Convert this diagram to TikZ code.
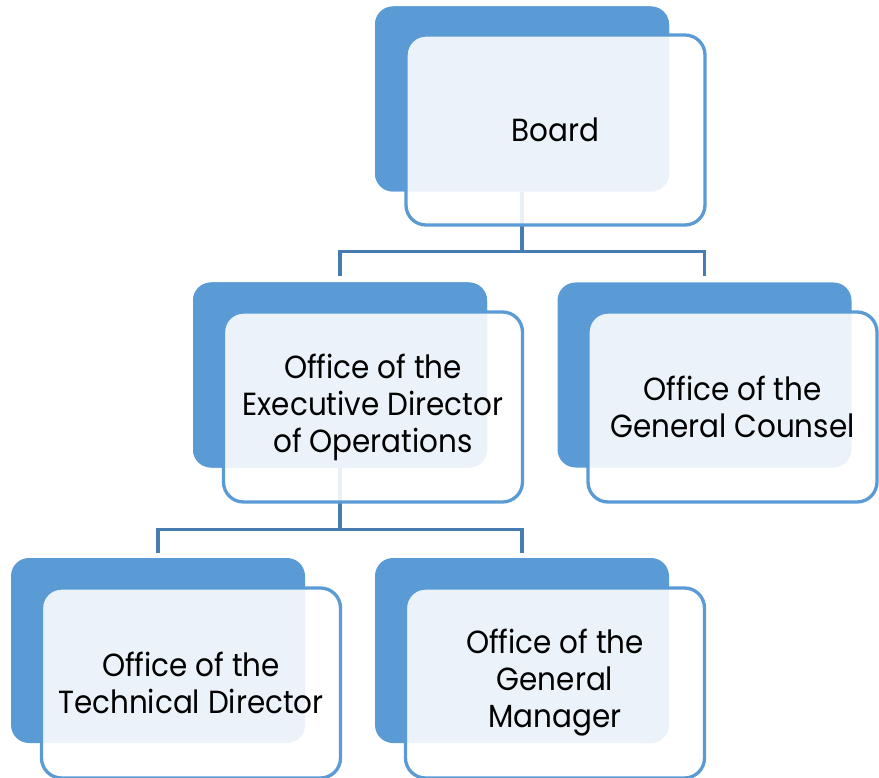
\documentclass[tikz,border=0pt]{standalone}
\usepackage{fontspec}
\setmainfont{Poppins}[FakeStretch=0.92]
\definecolor{accent}{HTML}{5B9BD5}
\definecolor{connc}{RGB}{70,124,176}
\begin{document}
\begin{tikzpicture}[x=1pt,y=-1pt,
  backbox/.style={rectangle, fill=accent, draw=none, minimum width=294pt, minimum height=185pt, rounded corners=18pt, inner sep=0pt},
  frontbox/.style={rectangle, fill=white, fill opacity=0.88, text opacity=1, draw=accent, line width=3.3pt, minimum width=299pt, minimum height=190pt, rounded corners=20pt, inner sep=0pt, align=center, font=\fontsize{32pt}{37pt}\selectfont},
  conn/.style={draw=connc, line width=3.4pt}]
\useasboundingbox (0,0) rectangle (879,778);
% back boxes
\node[backbox] (bB) at (522,99) {};
\node[backbox] (bE) at (340,375) {};
\node[backbox] (bG) at (704.5,375) {};
\node[backbox] (bT) at (158,650.5) {};
\node[backbox] (bM) at (522,650.5) {};
% connectors
\draw[conn] (bB.south) -- ++(0,60) -| ([yshift=6pt]bE.north);
\draw[conn] (bB.south) -- ++(0,60) -| ([yshift=6pt]bG.north);
\draw[conn] (bE.south) -- ++(0,62) -| ([yshift=5pt]bT.north);
\draw[conn] (bE.south) -- ++(0,62) -| ([yshift=5pt]bM.north);
% redraw back boxes over connector starts
\node[backbox] at (bB) {};
\node[backbox] at (bE) {};
% front boxes
\node[frontbox] (fB) at (555.5,130) {Board};
\node[frontbox] (fE) at (373,407) {Office of the\\Executive Director\\of Operations};
\node[frontbox, minimum width=289pt] (fG) at (732.5,407) {Office of the\\General Counsel};
\node[frontbox] (fT) at (191,683) {Office of the\\Technical Director};
\node[frontbox] (fM) at (555,683) {Office of the\\General\\Manager};
\end{tikzpicture}
\end{document}
